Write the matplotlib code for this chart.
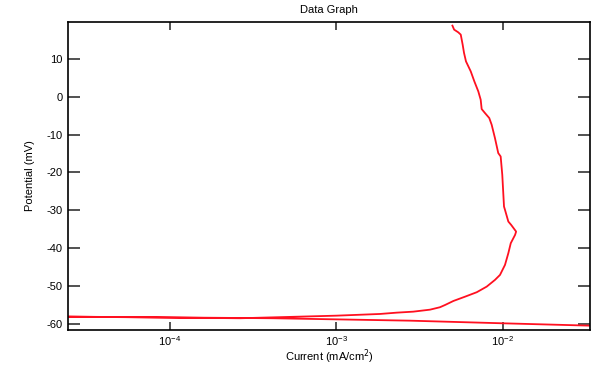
import numpy as np
import matplotlib
matplotlib.use('Agg')
import matplotlib.pyplot as plt
from matplotlib.ticker import LogLocator, NullLocator

plt.rcParams['font.family'] = ['Liberation Sans', 'DejaVu Sans']
plt.rcParams['axes.unicode_minus'] = False

# lower branch, right to left (mA/cm2, mV)
lower_current = [0.0336, 0.0099, 0.00277, 4.16e-4, 2.45e-5]
lower_potential = [-60.5, -59.87, -59.18, -58.54, -58.12]

# upper branch, left to right then up
upper_current = [2.45e-5, 2.64e-4, 0.001, 1.83e-3, 2.31e-3, 2.90e-3, 3.66e-3, 4.20e-3,
                 4.51e-3, 5.06e-3, 5.95e-3, 6.99e-3, 8.02e-3, 8.99e-3, 9.64e-3,
                 0.01033, 0.01082, 0.01119, 0.01188, 0.01205, 0.01125, 0.01082,
                 0.01033, 0.01019, 0.00995, 0.00973, 0.00941, 0.00899, 0.00859,
                 0.00831, 0.00783, 0.00748, 0.00738, 0.00714, 0.00676, 0.00643,
                 0.00602, 0.00586, 0.00575, 0.0056, 0.00541, 0.00511, 0.00499]
upper_potential = [-58.12, -58.54, -57.86, -57.41, -57.06, -56.80, -56.27, -55.63,
                   -55.03, -53.97, -52.83, -51.66, -50.18, -48.41, -47.09,
                   -44.44, -41.34, -38.70, -36.50, -35.63, -33.86, -32.98,
                   -29.89, -29.01, -20.63, -15.78, -14.88, -10.91, -7.39,
                   -5.62, -4.30, -3.24, -0.78, 1.42, 4.07, 6.72,
                   9.36, 11.59, 13.78, 16.43, 17.04, 17.75, 18.81]

current = lower_current + upper_current[1:]
potential = lower_potential + upper_potential[1:]

fig = plt.figure(figsize=(6, 3.67), dpi=100)
ax = fig.add_axes([0.1138, 0.1008, 0.9833 - 0.1138, 0.9409 - 0.1008])

ax.plot(current, potential, color='#ff1020', lw=1.3)

ax.set_xscale('log')
ax.set_xlim(10 ** -4.611, 10 ** -1.475)
ax.set_ylim(-61.65, 19.85)
ax.xaxis.set_major_locator(LogLocator(base=10, numticks=10))
ax.xaxis.set_minor_locator(NullLocator())
ax.set_yticks([10, 0, -10, -20, -30, -40, -50, -60])

ax.tick_params(axis='y', direction='in', length=8.5, width=1.2, color='#333333',
               left=True, right=True, labelsize=8, pad=4)
ax.tick_params(axis='x', direction='in', length=6, width=1.2, color='#333333',
               top=True, bottom=True, labelsize=8, pad=3)
for s in ax.spines.values():
    s.set_linewidth(1.2)

ax.set_title('Data Graph', fontsize=8, pad=6)
ax.set_xlabel('Current (mA/cm$^2$)', fontsize=8)
ax.xaxis.set_label_coords(0.5, -0.058)
ax.set_ylabel('Potential (mV)', fontsize=8, labelpad=8)

fig.savefig('out.png', dpi=100)
